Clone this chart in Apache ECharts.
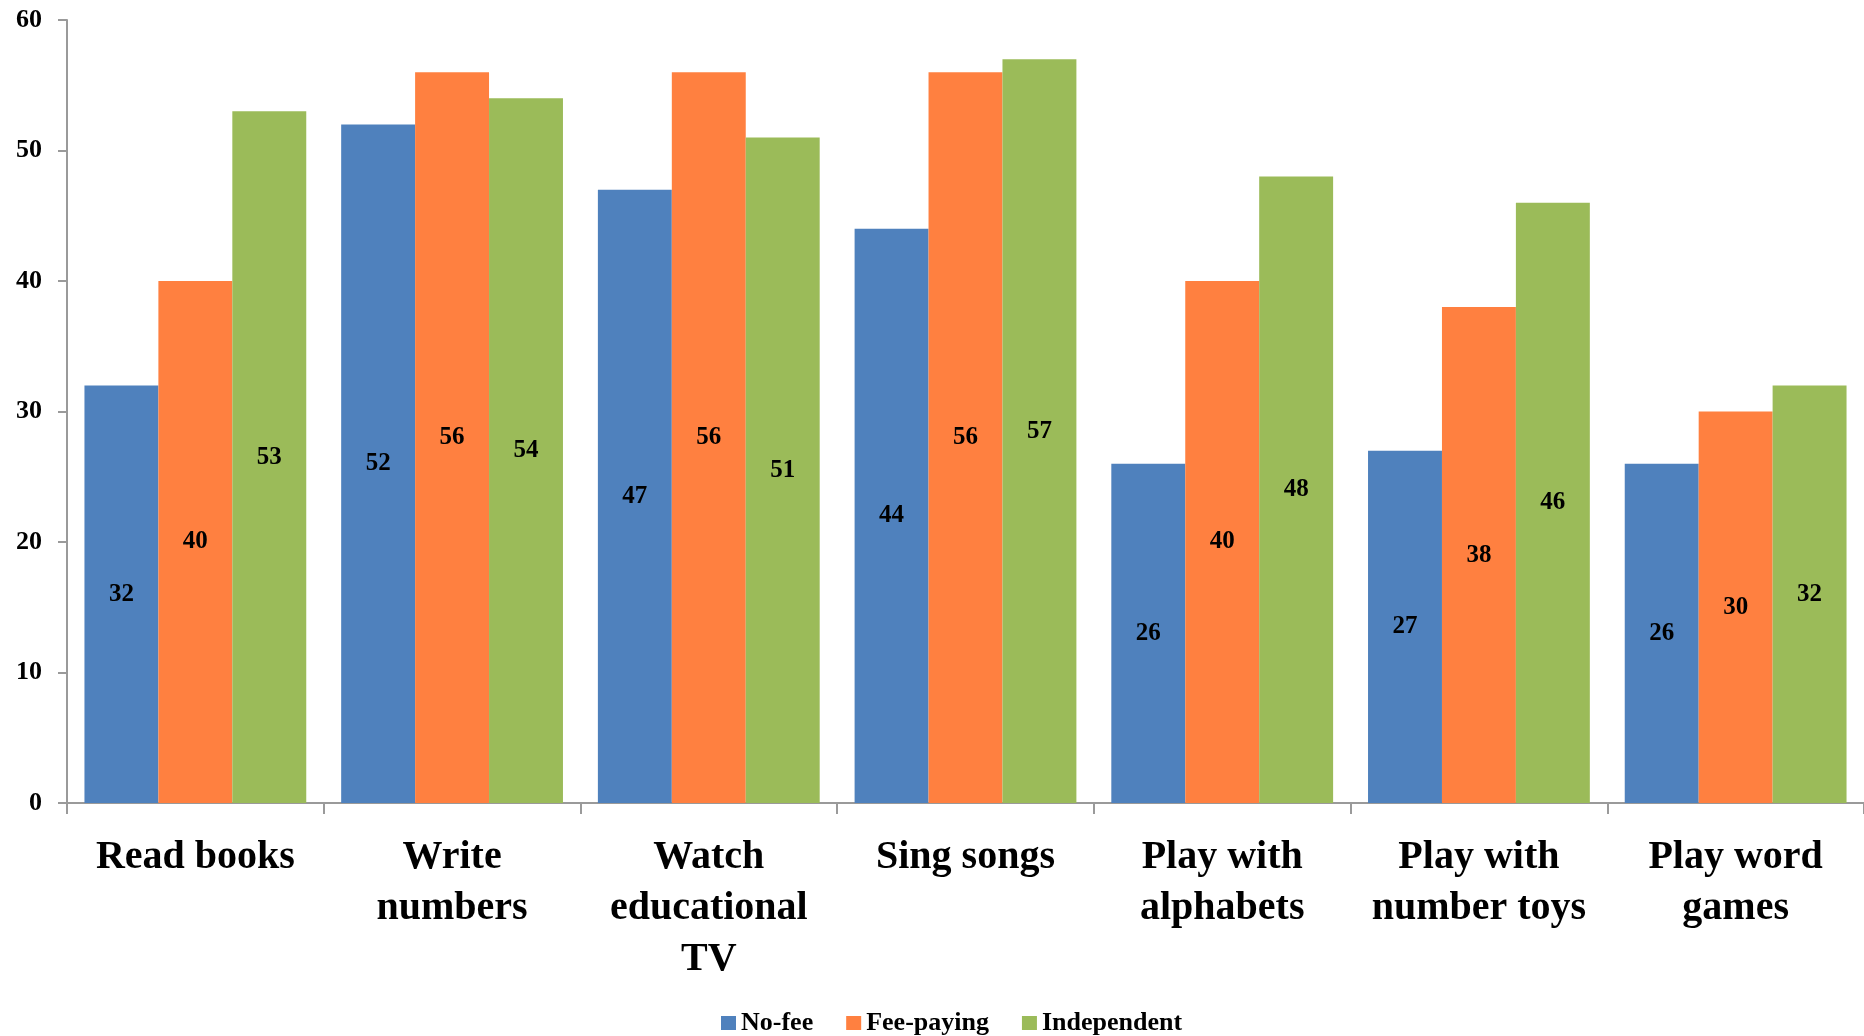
<!DOCTYPE html>
<html>
<head>
<meta charset="utf-8">
<script src="https://cdn.jsdelivr.net/npm/echarts@6/dist/echarts.min.js"></script>
<style>
  html, body { margin: 0; padding: 0; background: #fff; }
  #chart { width: 1864px; height: 1036px; }
</style>
</head>
<body>
<div id="chart"></div>
<script>
// Activities and share of parents reporting each, by school type
const categories = [
  'Read books',
  'Write\nnumbers',
  'Watch\neducational\nTV',
  'Sing songs',
  'Play with\nalphabets',
  'Play with\nnumber toys',
  'Play word\ngames'
];
const seriesNames = ['No-fee', 'Fee-paying', 'Independent'];
const noFee = [32, 52, 47, 44, 26, 27, 26];
const feePaying = [40, 56, 56, 56, 40, 38, 30];
const independent = [53, 54, 51, 57, 48, 46, 32];
const yTicks = { min: 0, max: 60, interval: 10 };

const colors = ['#4F81BD', '#FF8040', '#9BBB59'];
const fontFamily = '"Liberation Serif", "DejaVu Serif", serif';

function barSeries(name, data, color) {
  return {
    name: name,
    type: 'bar',
    data: data,
    barGap: '0%',
    barCategoryGap: '13.6%',
    itemStyle: { color: color },
    label: {
      show: true,
      position: 'inside',
      color: '#000',
      fontFamily: fontFamily,
      fontWeight: 'bold',
      fontSize: 25
    }
  };
}

const chart = echarts.init(document.getElementById('chart'), null, { renderer: 'canvas' });
chart.setOption({
  animation: false,
  color: colors,
  textStyle: { fontFamily: fontFamily },
  grid: { left: 67, right: 0, top: 20, bottom: 233, containLabel: false },
  legend: {
    data: seriesNames,
    left: 721,
    top: 1010,
    padding: 0,
    itemWidth: 15,
    itemHeight: 14,
    itemGap: 33,
    icon: 'rect',
    textStyle: {
      fontFamily: fontFamily,
      fontWeight: 'bold',
      fontSize: 26,
      color: '#000'
    }
  },
  xAxis: {
    type: 'category',
    data: categories,
    axisLine: { show: true, lineStyle: { color: '#9a9a9a', width: 2 } },
    axisTick: { show: true, length: 11, lineStyle: { color: '#9a9a9a', width: 2 } },
    axisLabel: {
      interval: 0,
      margin: 29,
      color: '#000',
      fontFamily: fontFamily,
      fontWeight: 'bold',
      fontSize: 40,
      lineHeight: 51,
      align: 'center'
    }
  },
  yAxis: {
    type: 'value',
    min: yTicks.min,
    max: yTicks.max,
    interval: yTicks.interval,
    splitLine: { show: false },
    axisLine: { show: true, lineStyle: { color: '#9a9a9a', width: 2 } },
    axisTick: { show: true, length: 9, lineStyle: { color: '#9a9a9a', width: 2 } },
    axisLabel: {
      margin: 25,
      color: '#000',
      fontFamily: fontFamily,
      fontWeight: 'bold',
      fontSize: 26
    }
  },
  series: [
    barSeries(seriesNames[0], noFee, colors[0]),
    barSeries(seriesNames[1], feePaying, colors[1]),
    barSeries(seriesNames[2], independent, colors[2])
  ]
});
</script>
</body>
</html>
